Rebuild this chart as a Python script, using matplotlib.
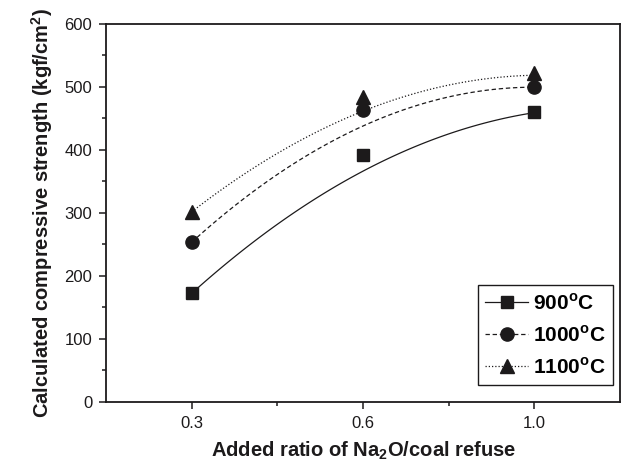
import numpy as np
import matplotlib
matplotlib.use('Agg')
import matplotlib.pyplot as plt

plt.rcParams['font.family'] = ['Liberation Sans', 'DejaVu Sans']
plt.rcParams['mathtext.fontset'] = 'custom'
plt.rcParams['mathtext.rm'] = 'Liberation Sans'
plt.rcParams['mathtext.bf'] = 'Liberation Sans:bold'

# Na2O/coal refuse ratio, shown as equally spaced categories
ratio_labels = ['0.3', '0.6', '1.0']

# measured compressive strength (kgf/cm2)
s_900 = [173, 392, 460]
s_1000 = [254, 463, 500]
s_1100 = [301, 484, 522]

# fitted trend lines, read at every half category step
trend_pos = [1, 1.5, 2, 2.5, 3]
trend_900 = [173, 280, 370, 423, 460]
trend_1000 = [254, 360, 440, 483, 500]
trend_1100 = [301, 396, 463, 500, 520]

ink = '#1c1a1b'

fig = plt.figure(figsize=(6.24, 4.65), dpi=100)
ax = fig.add_axes([0.170, 0.1355, 0.8237, 0.8129])

x = np.arange(1, len(ratio_labels) + 1)
xs = np.linspace(1, 3, 100)

series = [
    (s_900, trend_900, 's', '-', 8, r'900$^{\mathbf{o}}$C'),
    (s_1000, trend_1000, 'o', (0, (3.5, 2.2)), 9.5, r'1000$^{\mathbf{o}}$C'),
    (s_1100, trend_1100, '^', (0, (1, 1.6)), 10, r'1100$^{\mathbf{o}}$C'),
]
for vals, trend, mk, ls, ms, label in series:
    fit = np.polyfit(trend_pos, trend, 2)
    ax.plot(xs, np.polyval(fit, xs), color=ink, lw=0.9, ls=ls)
    ax.plot(x, vals, ls='none', marker=mk, ms=ms, color=ink)
    # legend entry: line with marker
    ax.plot([], [], color=ink, lw=0.9, ls=ls, marker=mk, ms=ms, label=label)

ax.set_xlim(0.5, 3.5)
ax.set_ylim(0, 600)
ax.set_xticks(x)
ax.set_xticklabels(ratio_labels)
ax.set_xticks([1.5, 2.5], minor=True)
ax.set_yticks(range(0, 601, 100))
ax.set_yticks(range(50, 600, 100), minor=True)

ax.tick_params(which='major', direction='out', length=5, width=1.1,
               labelsize=12, colors=ink, pad=5)
ax.tick_params(which='minor', direction='out', length=3, width=1.1, colors=ink)
for sp in ax.spines.values():
    sp.set_linewidth(1.3)
    sp.set_color(ink)

ax.set_xlabel(r'Added ratio of Na$_{\mathbf{2}}$O/coal refuse',
              fontsize=14.5, fontweight='bold', color=ink, labelpad=6)
ax.set_ylabel(r'Calculated compressive strength (kgf/cm$^{\mathbf{2}}$)',
              fontsize=14.5, fontweight='bold', color=ink, labelpad=7)

leg = ax.legend(loc='lower left', bbox_to_anchor=(0.7237, 0.045),
                prop={'weight': 'bold', 'size': 15},
                frameon=True, fancybox=False, edgecolor=ink, framealpha=1,
                handlelength=2.05, handletextpad=0.25, labelspacing=0.55,
                borderpad=0.35, borderaxespad=0)
leg.get_frame().set_linewidth(1.0)

fig.savefig('out.png', dpi=100)
